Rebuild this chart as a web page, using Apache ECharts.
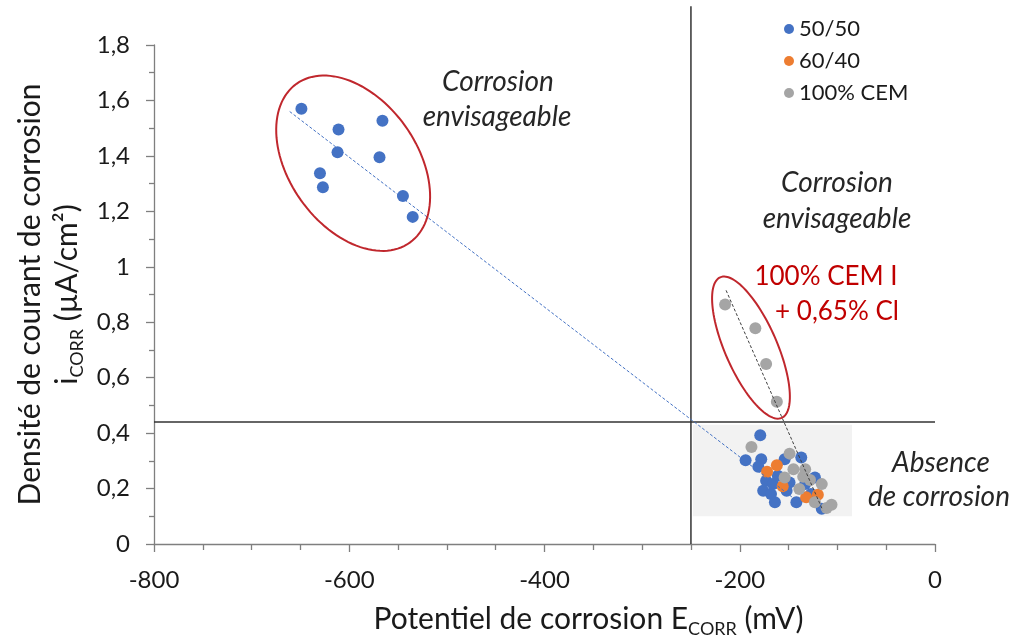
<!DOCTYPE html>
<html><head><meta charset="utf-8">
<script src="https://cdn.jsdelivr.net/npm/echarts@6/dist/echarts.min.js"></script>
<style>html,body{margin:0;padding:0;background:#fff}#c{width:1019px;height:643px}</style>
</head><body><div id="c"></div>
<script>
// ---------- data ----------
const seriesNames = ['50/50', '60/40', '100% CEM'];

// E_CORR (mV), i_CORR (µA/cm²)
const blue5050 = [
  [-649, 1.570], [-611, 1.495], [-566, 1.527], [-612, 1.413], [-569, 1.395],
  [-630, 1.337], [-627, 1.287], [-545, 1.255], [-535, 1.180],
  [-179, 0.392], [-194, 0.302], [-178, 0.306], [-181, 0.279], [-154, 0.306],
  [-137, 0.312], [-173, 0.228], [-166, 0.216], [-176, 0.192], [-164, 0.151],
  [-142, 0.151], [-123, 0.240], [-116, 0.127], [-149, 0.222], [-133, 0.216],
  [-127, 0.180], [-161, 0.246], [-152, 0.192], [-168, 0.180]
];
const orange6040 = [
  [-162, 0.284], [-172, 0.261], [-156, 0.208], [-132, 0.169], [-120, 0.178]
];
const gray100 = [
  [-215, 0.864], [-184, 0.778], [-173, 0.649], [-162, 0.513],
  [-188, 0.350], [-149, 0.326], [-145, 0.270], [-133, 0.270], [-154, 0.240],
  [-128, 0.231], [-116, 0.216], [-139, 0.198], [-123, 0.151], [-111, 0.130],
  [-106, 0.142], [-135, 0.243]
];

// trend lines (end points)
const blueTrend = [[-661, 1.56], [-140, 0.152]];
const grayTrend = [[-214, 0.915], [-115, 0.122]];

// threshold lines
const limitE = -250;          // mV
const limitI = 0.44;          // µA/cm²
const limitETop = 1.94;
// "absence de corrosion" zone
const zoneBox = [[-248, 0.10], [-85, 0.43]];
// ellipses: major-axis end points (E, i, E, i)
const ellipseAxes = [
  [-654, 1.66, -538, 1.087],
  [-220, 0.962, -157, 0.455]
];

// axes
const xMin = -800, xMax = 0, xStep = 200;
const yMin = 0, yMax = 1.8, yStep = 0.2;

// ---------- styling ----------
const FONT = 'Lato';
const ellipseMinor = [64, 26];   // px

const chart = echarts.init(document.getElementById('c'), null, {renderer: 'canvas'});

function ellipseRender(params, api) {
  const p1 = api.coord([api.value(0), api.value(1)]);
  const p2 = api.coord([api.value(2), api.value(3)]);
  const cx = (p1[0] + p2[0]) / 2, cy = (p1[1] + p2[1]) / 2;
  const dx = p2[0] - p1[0], dy = p2[1] - p1[1];
  const a = Math.sqrt(dx * dx + dy * dy) / 2;
  const b = ellipseMinor[params.dataIndex];
  const ang = Math.atan2(dy, dx);
  const ca = Math.cos(ang), sa = Math.sin(ang);
  const pts = [];
  for (let k = 0; k < 120; k++) {
    const t = k / 120 * Math.PI * 2;
    const ex = a * Math.cos(t), ey = b * Math.sin(t);
    pts.push([cx + ex * ca - ey * sa, cy + ex * sa + ey * ca]);
  }
  return {type: 'polygon', shape: {points: pts},
    style: {fill: 'none', stroke: '#c0272d', lineWidth: 2}};
}

const txt = (text, x, y, opts) => Object.assign({
  type: 'text', x: x, y: y, z: 100,
  style: Object.assign({text: text, fontFamily: FONT, fontSize: 28, fontStyle: 'italic',
    fill: '#262626', align: 'center', verticalAlign: 'middle'}, opts || {})
});

chart.setOption({
  animation: false,
  backgroundColor: '#fff',
  grid: {left: 154, right: 84, top: 45, bottom: 96},
  legend: {
    orient: 'vertical', left: 779, top: 13, itemWidth: 10, itemHeight: 10, itemGap: 10,
    icon: 'circle', data: seriesNames,
    textStyle: {fontFamily: FONT, fontSize: 22, color: '#1a1a1a'}
  },
  xAxis: {
    type: 'value', min: xMin, max: xMax, interval: xStep,
    splitLine: {show: false},
    axisLine: {onZero: false, lineStyle: {color: '#7f7f7f', width: 1.3}},
    axisTick: {length: 8, lineStyle: {color: '#7f7f7f', width: 1.3}},
    minorTick: {show: true, splitNumber: 4, length: 6, lineStyle: {color: '#7f7f7f', width: 1.3}},
    axisLabel: {margin: 24, fontFamily: FONT, fontSize: 24, color: '#1a1a1a'},
    name: '{a|Potentiel de corrosion E}{s|CORR}{a| (mV)}',
    nameLocation: 'middle', nameGap: 56,
    nameTextStyle: {
      padding: [0, 0, 0, 88],
      rich: {
        a: {fontFamily: FONT, fontSize: 30, color: '#1a1a1a', lineHeight: 38, verticalAlign: 'middle'},
        s: {fontFamily: FONT, fontSize: 18, color: '#1a1a1a', lineHeight: 38, verticalAlign: 'bottom'}
      }
    }
  },
  yAxis: {
    type: 'value', min: yMin, max: yMax, interval: yStep,
    splitLine: {show: false},
    axisLine: {show: true, onZero: false, lineStyle: {color: '#7f7f7f', width: 1.3}},
    axisTick: {show: true, length: 8, lineStyle: {color: '#7f7f7f', width: 1.3}},
    minorTick: {show: true, splitNumber: 2, length: 5, lineStyle: {color: '#7f7f7f', width: 1.3}},
    axisLabel: {margin: 24, fontFamily: FONT, fontSize: 24, color: '#1a1a1a',
      formatter: v => String(+v.toFixed(1)).replace('.', ',')},
    name: '{a|Densité de courant de corrosion}\n{a|i}{s|CORR}{a| (µA/cm²)}',
    nameLocation: 'middle', nameGap: 68, nameRotate: 90,
    nameTextStyle: {
      rich: {
        a: {fontFamily: FONT, fontSize: 30, color: '#1a1a1a', lineHeight: 37, verticalAlign: 'middle'},
        s: {fontFamily: FONT, fontSize: 18, color: '#1a1a1a', lineHeight: 37, verticalAlign: 'bottom'}
      }
    }
  },
  series: [
    { // zone
      type: 'line', data: [], silent: true,
      markArea: {silent: true, itemStyle: {color: '#f2f2f2'},
        data: [[{coord: zoneBox[0]}, {coord: zoneBox[1]}]]}
    },
    {type: 'line', data: [[xMin, limitI], [xMax, limitI]], symbol: 'none', silent: true,
      lineStyle: {color: '#333', width: 1.5}, z: 1},
    {type: 'line', data: [[limitE, yMin], [limitE, limitETop]], symbol: 'none', silent: true, clip: false,
      lineStyle: {color: '#333', width: 1.5}, z: 1},
    {name: seriesNames[0], type: 'scatter', data: blue5050, symbolSize: 12,
      itemStyle: {color: '#4472c4', opacity: 1}, z: 3},
    {name: seriesNames[1], type: 'scatter', data: orange6040, symbolSize: 12,
      itemStyle: {color: '#ed7d31', opacity: 1}, z: 4},
    {name: seriesNames[2], type: 'scatter', data: gray100, symbolSize: 12,
      itemStyle: {color: '#a5a5a5', opacity: 1}, z: 5},
    {type: 'line', data: blueTrend, symbol: 'none', silent: true,
      lineStyle: {color: '#4472c4', width: 1, type: [3, 2]}, z: 6},
    {type: 'line', data: grayTrend, symbol: 'none', silent: true,
      lineStyle: {color: '#404040', width: 1, type: [3, 2]}, z: 6},
    {type: 'custom', data: ellipseAxes, renderItem: ellipseRender, silent: true, z: 7}
  ],
  graphic: [
    txt('Corrosion', 498, 82),
    txt('envisageable', 497, 117),
    txt('Corrosion', 837, 183),
    txt('envisageable', 837, 219),
    txt('100% CEM I', 826, 277, {fontStyle: 'normal', fontSize: 26, fill: '#c00000'}),
    txt('+ 0,65% Cl', 837, 312, {fontStyle: 'normal', fontSize: 26, fill: '#c00000'}),
    txt('Absence', 941, 463),
    txt('de corrosion', 939, 497)
  ]
});
</script></body></html>
